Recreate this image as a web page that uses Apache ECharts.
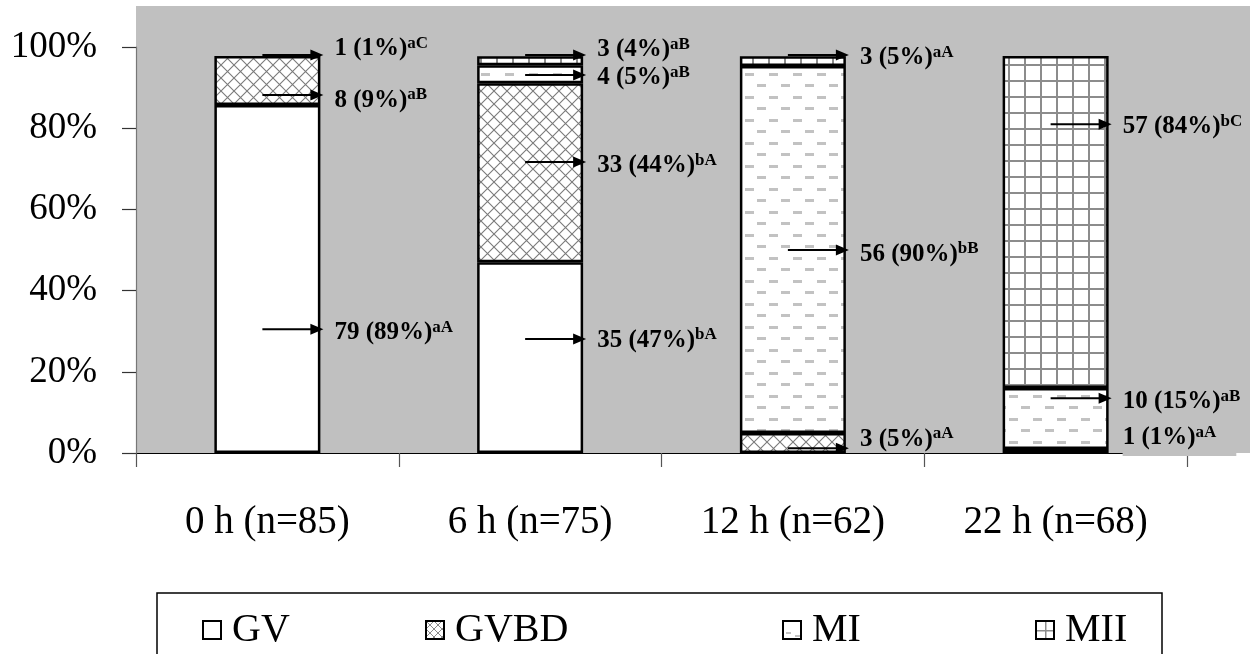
<!DOCTYPE html>
<html>
<head>
<meta charset="utf-8">
<script src="https://cdn.jsdelivr.net/npm/echarts@6/dist/echarts.min.js"></script>
<style>
html,body{margin:0;padding:0;background:#fff;}
#chart{width:1250px;height:654px;}
</style>
</head>
<body>
<div id="chart"></div>
<script>
// ---- data (percent of axis) ----
var categories = ['0 h (n=85)', '6 h (n=75)', '12 h (n=62)', '22 h (n=68)'];
var seriesNames = ['GV', 'GVBD', 'MI', 'MII'];
var gvValues   = [85.7, 47.0, null, 1.0];
var gvbdValues = [12.1, 44.1, 4.9, null];
var miValues   = [null, 4.4, 90.4, 15.0];
var miiValues  = [null, 2.2, 2.4, 81.8];
var yTicks = [0, 20, 40, 60, 80, 100];

// annotation labels: category index, arrow at (%), text at (%), main text, superscript, has arrow
var annCategory = [0, 0, 0, 1, 1, 1, 1, 2, 2, 2, 3, 3, 3];
var annArrowAt  = [98.0, 88.2, 30.5, 98.0, 93.1, 71.7, 28.1, 98.0, 50.0, 1.2, 81.0, 13.5, 3.2];
var annTextAt   = [99.6, 86.9, 29.6, 99.3, 92.4, 70.7, 27.8, 97.3, 49.0, 3.4, 80.3, 12.6, 3.2];
var annMain     = ['1 (1%)', '8 (9%)', '79 (89%)', '3 (4%)', '4 (5%)', '33 (44%)', '35 (47%)',
                   '3 (5%)', '56 (90%)', '3 (5%)', '57 (84%)', '10 (15%)', '1 (1%)'];
var annSup      = ['aC', 'aB', 'aA', 'aB', 'aB', 'bA', 'bA', 'aA', 'bB', 'aA', 'bC', 'aB', 'aA'];
var annArrow    = [1, 1, 1, 1, 1, 1, 1, 1, 1, 1, 1, 1, 0];

// ---- patterns ----
function makeCanvas(w, h, draw) {
  var c = document.createElement('canvas');
  c.width = w; c.height = h;
  var ctx = c.getContext('2d');
  ctx.fillStyle = '#ffffff';
  ctx.fillRect(0, 0, w, h);
  draw(ctx, w, h);
  return { image: c, repeat: 'repeat' };
}
var patGV = '#ffffff';
var patGVBD = makeCanvas(13, 13, function (ctx, w, h) {
  ctx.strokeStyle = '#7a7a7a';
  ctx.lineWidth = 1.1;
  ctx.beginPath();
  ctx.moveTo(0, 0); ctx.lineTo(w, h);
  ctx.moveTo(w, 0); ctx.lineTo(0, h);
  ctx.stroke();
});
var patMI = makeCanvas(24, 23, function (ctx, w, h) {
  ctx.fillStyle = '#c2c2c2';
  ctx.fillRect(1, 4, 9, 3);
  ctx.fillRect(13, 15, 9, 3);
});
var patMII = makeCanvas(16, 16, function (ctx, w, h) {
  ctx.fillStyle = '#8c8c8c';
  ctx.fillRect(0, 0, 16, 2);
  ctx.fillRect(0, 0, 2, 16);
});
// legend icon fills
var legGVBD = makeCanvas(8, 8, function (ctx, w, h) {
  ctx.strokeStyle = '#8a8a8a';
  ctx.lineWidth = 1;
  ctx.beginPath();
  ctx.moveTo(0, 0); ctx.lineTo(w, h);
  ctx.moveTo(w, 0); ctx.lineTo(0, h);
  ctx.stroke();
});
var legMI = makeCanvas(19, 19, function (ctx) {
  ctx.fillStyle = '#c2c2c2';
  ctx.fillRect(3, 11, 5, 2);
  ctx.fillRect(12, 14, 5, 2);
});
var legMII = makeCanvas(19, 19, function (ctx) {
  ctx.fillStyle = '#8c8c8c';
  ctx.fillRect(0, 9, 19, 1.5);
  ctx.fillRect(9, 0, 1.5, 19);
});
var patterns = [patGV, patGVBD, patMI, patMII];
var legendFills = ['#ffffff', legGVBD, legMI, legMII];
var seriesValues = [gvValues, gvbdValues, miValues, miiValues];

var FONT = '"Liberation Serif", "Times New Roman", serif';
var BAR_W = 106;

var chart = echarts.init(document.getElementById('chart'), null, { renderer: 'canvas' });

var barSeries = seriesNames.map(function (name, i) {
  return {
    name: name,
    type: 'bar',
    stack: 'total',
    barWidth: BAR_W,
    data: seriesValues[i],
    itemStyle: { color: patterns[i], borderColor: '#000', borderWidth: 2.5 },
    emphasis: { disabled: true },
    animation: false
  };
});

var annData = annCategory.map(function (c, i) { return [c, annArrowAt[i], annTextAt[i]]; });

var annSeries = {
  type: 'custom',
  name: 'labels',
  data: annData,
  encode: { x: 0, y: 1 },
  z: 10,
  silent: true,
  animation: false,
  renderItem: function (params, api) {
    var i = params.dataIndex;
    var a = api.coord([api.value(0), api.value(1)]);
    var t = api.coord([api.value(0), api.value(2)]);
    var x0 = a[0] - 5;
    var tip = a[0] + BAR_W / 2 + 3;
    var children = [];
    if (annArrow[i]) {
      children.push({
        type: 'line',
        shape: { x1: x0, y1: a[1], x2: tip - 10, y2: a[1] },
        style: { stroke: '#000', lineWidth: 2 }
      });
      children.push({
        type: 'polygon',
        shape: { points: [[tip - 13, a[1] - 5.5], [tip, a[1]], [tip - 13, a[1] + 5.5]] },
        style: { fill: '#000' }
      });
    }
    var st = {
      x: tip + 11,
      y: t[1],
      text: '{m|' + annMain[i] + '}{s|' + annSup[i] + '}',
      align: 'left',
      verticalAlign: 'middle',
      rich: {
        m: { fontFamily: FONT, fontSize: 25, fontWeight: 'bold', fill: '#000', lineHeight: 28 },
        s: { fontFamily: FONT, fontSize: 17, fontWeight: 'bold', fill: '#000', lineHeight: 18, verticalAlign: 'top' }
      }
    };
    if (!annArrow[i]) {
      st.backgroundColor = '#c0c0c0';
      st.padding = [0, 20, 4, 0];
    }
    children.push({ type: 'text', style: st });
    return { type: 'group', children: children };
  }
};

var legendLefts = [197, 420, 777, 1030];
var legends = seriesNames.map(function (name, i) {
  return {
    data: [{ name: name, itemStyle: { color: legendFills[i] } }],
    left: legendLefts[i],
    top: 605,
    orient: 'horizontal',
    icon: 'rect',
    itemWidth: 18,
    itemHeight: 18,
    itemGap: 0,
    selectedMode: false,
    itemStyle: { borderColor: '#000', borderWidth: 2 },
    textStyle: { fontFamily: FONT, fontSize: 40, color: '#000', padding: [0, 0, 0, 6] }
  };
});

var option = {
  backgroundColor: '#ffffff',
  animation: false,
  grid: { left: 136, right: 63, top: 47, bottom: 201, containLabel: false },
  graphic: [
    { type: 'rect', z: -10, silent: true, shape: { x: 136, y: 6, width: 1114, height: 447 }, style: { fill: '#c0c0c0' } },
    { type: 'rect', z: -10, silent: true, shape: { x: 157, y: 593, width: 1005, height: 80 }, style: { fill: '#ffffff', stroke: '#000', lineWidth: 1.5 } }
  ],
  legend: legends,
  xAxis: {
    type: 'category',
    data: categories,
    boundaryGap: true,
    axisLine: { show: true, lineStyle: { color: '#000', width: 1.2 } },
    axisTick: { show: true, length: 14, lineStyle: { color: '#555', width: 1.2 } },
    axisLabel: { fontFamily: FONT, fontSize: 39, color: '#000', margin: 50 },
    splitLine: { show: false }
  },
  yAxis: {
    type: 'value',
    min: 0,
    max: 100,
    interval: 20,
    axisLine: { show: true, lineStyle: { color: '#777', width: 1.2 } },
    axisTick: { show: true, length: 14, lineStyle: { color: '#333', width: 1.2 } },
    axisLabel: {
      fontFamily: FONT, fontSize: 37, color: '#000', margin: 39,
      formatter: function (v) { return yTicks.indexOf(v) >= 0 ? v + '%' : ''; }
    },
    splitLine: { show: false }
  },
  series: barSeries.concat([annSeries])
};
chart.setOption(option);
</script>
</body>
</html>
